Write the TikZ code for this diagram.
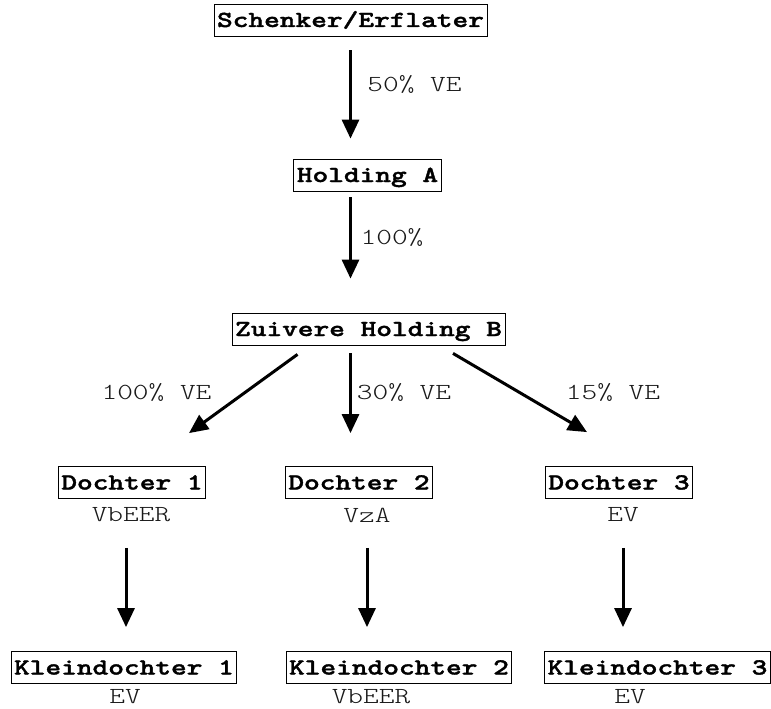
\documentclass[tikz,border=0pt]{standalone}
\usepackage{fontspec}
\newfontfamily\kastfont[FakeStretch=1.3, FakeBold=1.6]{lmmonolt10-bold.otf}
\newfontfamily\labelfont[FakeStretch=1.3]{lmmonolt10-regular.otf}
\usetikzlibrary{arrows.meta}

\tikzset{
    entiteit/.style={draw, line width=0.8pt, font=\kastfont\fontsize{23}{23}\selectfont,
        inner xsep=3pt, inner ysep=0pt, text height=14pt, text depth=0pt, minimum height=32pt},
    regime/.style={font=\labelfont\fontsize{23}{23}\selectfont, text=black!90, inner sep=0pt},
    pijl/.style={-{Triangle[width=17pt,length=19pt]}, line width=3pt}
}

\begin{document}
\begin{tikzpicture}[x=1pt, y=-1pt]
            \useasboundingbox (0, 0) rectangle (771, 709);

            \node[entiteit] at (350.5, 20)  (schenker) {Schenker/Erflater};
            \node[entiteit] at (367.5, 175) (holdA)    {Holding A};
            \node[entiteit] at (368.5, 329) (holdB)    {Zuivere Holding B};

            \node[entiteit] at (132, 482.5) (d1) {Dochter 1};
            \node[entiteit] at (359, 482.5) (d2) {Dochter 2};
            \node[entiteit] at (619, 482.5) (d3) {Dochter 3};

            \node[entiteit] at (124, 667.5)   (kd1) {Kleindochter 1};
            \node[entiteit] at (399, 667.5)   (kd2) {Kleindochter 2};
            \node[entiteit] at (657.5, 667.5) (kd3) {Kleindochter 3};

            % percentages
            \node[regime] at (414.5, 84)  (p1) {50\% VE};
            \node[regime] at (392, 237)   (p2) {100\%};
            \node[regime] at (156.5, 392) (p3) {100\% VE};
            \node[regime] at (404, 392)   (p4) {30\% VE};
            \node[regime] at (613, 392)   (p5) {15\% VE};

            % regimes
            \node[regime] at (131, 515) (r1) {VbEER};
            \node[regime] at (367, 515) (r2) {VzA};
            \node[regime] at (623, 515) (r3) {EV};
            \node[regime] at (125, 697) (r4) {EV};
            \node[regime] at (371, 697) (r5) {VbEER};
            \node[regime] at (630, 697) (r6) {EV};

            \draw [pijl] ([yshift=-14pt]schenker.south) -- ([yshift=20pt]schenker.south |- holdA.north);
            \draw [pijl] ([yshift=-6pt]schenker.south |- holdA.south) -- ([yshift=34pt]schenker.south |- holdB.north);

            \draw [pijl] ([xshift=-71pt, yshift=-9pt]holdB.south) -- ([xshift=57pt, yshift=33pt]d1.north);
            \draw [pijl] ([yshift=-8pt]schenker.south |- holdB.south) -- ([yshift=33pt]schenker.south |- d2.north);
            \draw [pijl] ([xshift=84.5pt, yshift=-8pt]holdB.south) -- ([xshift=-32pt, yshift=34pt]d3.north);

            \draw [pijl] ([xshift=-6pt, yshift=-49pt]d1.south) -- ([xshift=2pt, yshift=24pt]kd1.north);
            \draw [pijl] ([xshift=8pt, yshift=-49pt]d2.south)  -- ([xshift=-32pt, yshift=24pt]kd2.north);
            \draw [pijl] ([xshift=4pt, yshift=-49pt]d3.south)  -- ([xshift=-34.5pt, yshift=24pt]kd3.north);
        \end{tikzpicture}
\end{document}
